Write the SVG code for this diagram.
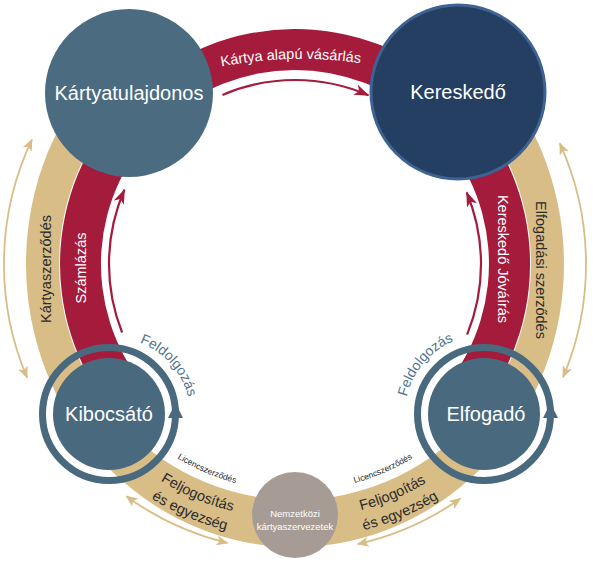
<svg xmlns="http://www.w3.org/2000/svg" width="600" height="570" viewBox="0 0 600 570">
<style>
text{font-family:"Liberation Sans",Arial,sans-serif}
.node{fill:#49697f}
.lbl{fill:#ffffff;font-size:20px;text-anchor:middle}
.wht{fill:#ffffff;font-size:14.5px;text-anchor:middle}
.drk{fill:#2b2b2b;font-size:14.5px;text-anchor:middle}
.bot{fill:#2b2b2b;font-size:14.5px;text-anchor:middle}
.lic{fill:#1e1e1e;font-size:8.5px;text-anchor:middle}
.fel{fill:#52738b;font-size:14px;text-anchor:middle}
.ring{fill:none;stroke:#49697f;stroke-width:7}
.tarr{fill:none;stroke:#d9bd87;stroke-width:1.8;marker-start:url(#mt);marker-end:url(#mt)}
.rarr{fill:none;stroke:#a41b3b;stroke-width:2.2;marker-end:url(#mr)}
</style>
<defs>
<marker id="mt" viewBox="0 0 12 10" markerWidth="12" markerHeight="10" refX="11" refY="5" orient="auto-start-reverse" markerUnits="userSpaceOnUse">
<path d="M0,0 L12,5 L0,10 L3,5 z" fill="#d9bd87"/>
</marker>
<marker id="mr" viewBox="0 0 15 11" markerWidth="15" markerHeight="11" refX="14" refY="5.5" orient="auto" markerUnits="userSpaceOnUse">
<path d="M0,0 L15,5.5 L0,11 L4,5.5 z" fill="#a41b3b"/>
</marker>
<path id="tp-top" d="M205,70 Q291,50 377,66"/>
<path id="tp-bl1" d="M99.7,427.9 A255,255 0 0 0 312.8,518.4"/>
<path id="tp-bl2" d="M84.3,440.8 A275,275 0 0 0 314.2,538.3"/>
<path id="tp-br1" d="M277.2,518.4 A255,255 0 0 0 490.3,427.9"/>
<path id="tp-br2" d="M275.8,538.3 A275,275 0 0 0 505.7,440.8"/>
<path id="tp-ll" d="M139.6,429.5 A227,227 0 0 0 282.3,490.6"/>
<path id="tp-lr" d="M307.7,490.6 A227,227 0 0 0 450.4,429.5"/>
<path id="tp-fl" d="M130,339.8 A77,77 0 0 1 189.7,406.9"/>
<path id="tp-fr" d="M405.3,407.1 A79,79 0 0 1 463.6,337.7"/>
</defs>
<rect width="600" height="570" fill="#ffffff"/>

<g id="connectors">
<path id="band-tan" d="M480.2,58.7 A269,283 0 1 1 108.1,60.4 L131.1,94.2 A236,236 0 1 0 457.5,92.8 Z" fill="#d9bd87"/>
<path id="band-red" d="M112.4,411.9 A235,235 0 1 1 479.2,410 L447,384.5 A194,194 0 1 0 144.2,386.1 Z" fill="#a41b3b"/>
<path class="rarr" d="M222.5,94.9 A184,184 0 0 1 368.4,95.3"/>
<path class="rarr" d="M122.1,332.5 A186,186 0 0 1 124.4,189.8"/>
<path class="rarr" d="M467.1,334.6 A186,186 0 0 0 466.7,192.5"/>
<path class="tarr" d="M27.1,377.7 A291,291 0 0 1 31.9,139.6"/>
<path class="tarr" d="M563.1,377.2 A291,291 0 0 0 559.8,143.3"/>
<path class="tarr" d="M126.3,496.2 A287,287 0 0 0 227.5,543"/>
<path class="tarr" d="M357.6,544.1 A287,287 0 0 0 460.4,498.5"/>
</g>

<g id="connector-labels">
<text class="wht" font-size="15"><textPath href="#tp-top" startOffset="50%">Kártya alapú vásárlás</textPath></text>
<text class="wht" transform="translate(86,268) rotate(-90)">Számlázás</text>
<text class="drk" transform="translate(51,269) rotate(-90)">Kártyaszerződés</text>
<text class="wht" transform="translate(498,259) rotate(90)">Kereskedő Jóváírás</text>
<text class="drk" transform="translate(536,270) rotate(90)">Elfogadási szerződés</text>
<text class="bot"><textPath href="#tp-bl1" startOffset="50%">Feljogosítás</textPath></text>
<text class="bot"><textPath href="#tp-bl2" startOffset="50%">és egyezség</textPath></text>
<text class="bot"><textPath href="#tp-br1" startOffset="50%">Feljogoítás</textPath></text>
<text class="bot"><textPath href="#tp-br2" startOffset="50%">és egyezség</textPath></text>
<text class="lic"><textPath href="#tp-ll" startOffset="50%">Licencszerződés</textPath></text>
<text class="lic"><textPath href="#tp-lr" startOffset="50%">Licencszerződés</textPath></text>
</g>

<g id="node-kartyatulajdonos">
<circle cx="129" cy="93" r="84" fill="#4b6b81"/>
<text class="lbl" x="129" y="100">Kártyatulajdonos</text>
</g>

<g id="node-kereskedo">
<circle cx="458" cy="92" r="87" fill="#243f62" stroke="#3e6393" stroke-width="3"/>
<text class="lbl" x="458" y="99" font-size="19.5">Kereskedő</text>
</g>

<g id="node-kibocsato">
<circle class="ring" cx="109" cy="414" r="66.5"/>
<path d="M168,418 L183,418 L175.5,403 z" fill="#49697f"/>
<circle class="node" cx="109" cy="414" r="56"/>
<text class="lbl" x="109" y="421" font-size="20.5">Kibocsátó</text>
<text class="fel"><textPath href="#tp-fl" startOffset="50%">Feldolgozás</textPath></text>
</g>

<g id="node-elfogado">
<circle class="ring" cx="484" cy="414" r="66.5"/>
<path d="M543,418 L558,418 L550.5,403 z" fill="#49697f"/>
<circle class="node" cx="484" cy="414" r="56"/>
<text class="lbl" x="486" y="421">Elfogadó</text>
<text class="fel"><textPath href="#tp-fr" startOffset="50%">Feldolgozás</textPath></text>
</g>

<g id="node-nemzetkozi">
<circle cx="295" cy="515" r="43" fill="#a69c95"/>
<text x="295" y="517" fill="#ffffff" font-size="9.5" text-anchor="middle">Nemzetközi</text>
<text x="295" y="529.5" fill="#ffffff" font-size="9.5" text-anchor="middle">kártyaszervezetek</text>
</g>
</svg>
